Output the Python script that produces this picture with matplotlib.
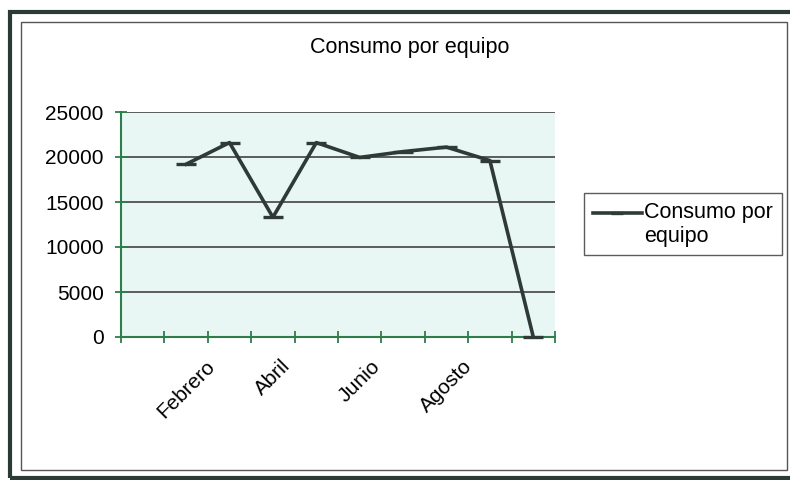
import matplotlib.pyplot as plt
import numpy as np
from matplotlib.patches import Rectangle

plt.rcParams['font.family'] = ['Liberation Sans', 'DejaVu Sans']

meses = ['Enero', 'Febrero', 'Marzo', 'Abril', 'Mayo', 'Junio',
         'Julio', 'Agosto', 'Septiembre', 'Octubre']
consumo = [np.nan, 19200, 21600, 13300, 21600, 19950, 20600, 21100, 19600, 0]
etiquetas = ['Febrero', 'Abril', 'Junio', 'Agosto']

fs = 15
verde = '#2e7d4a'
linea = '#2f3a36'

fig = plt.figure(figsize=(7.9, 4.8), dpi=100)
ax = fig.add_axes([121 / 790, 1 - 337 / 480, 434 / 790, 225 / 480])
ax.set_facecolor('#e8f7f3')

x = np.arange(len(meses))
ax.plot(x, consumo, color=linea, lw=2.6, marker='_', ms=15, mew=2.4,
        label='Consumo por\nequipo', clip_on=False, zorder=5)

ax.set_xlim(-0.5, len(meses) - 0.5)
ax.set_ylim(0, 25000)
ax.set_yticks(np.arange(0, 25001, 5000))
ax.grid(axis='y', color='#333333', lw=1.1)
ax.set_axisbelow(True)

# category borders carry the tick marks, labels sit at category centres
ax.set_xticks(np.arange(-0.5, len(meses)))
ax.set_xticklabels([])
ax.set_xticks([meses.index(m) for m in etiquetas], minor=True)
ax.set_xticklabels(etiquetas, minor=True, rotation=45, ha='center', va='top',
                   fontsize=fs)
ax.tick_params(axis='x', which='minor', length=0, pad=14)
ax.tick_params(axis='both', which='major', direction='inout', length=9,
               width=1.3, color=verde, labelsize=fs, pad=8)

for s in ['top', 'right']:
    ax.spines[s].set_visible(False)
for s in ['left', 'bottom']:
    ax.spines[s].set_color(verde)
    ax.spines[s].set_linewidth(1.5)

fig.text(0.519, 1 - 47 / 480, 'Consumo por equipo', ha='center', va='center',
         fontsize=15.5)

leg = fig.legend(loc='upper left', bbox_to_anchor=(584 / 790, 1 - 193 / 480),
                 fontsize=15.5, frameon=True, fancybox=False, handlelength=2.3,
                 handletextpad=0.1, borderpad=0.4, borderaxespad=0,
                 markerscale=0.6)
leg.get_frame().set_edgecolor('#333333')
leg.get_frame().set_linewidth(1.0)
h = leg.legend_handles[0]
h.set_ydata(np.asarray(h.get_ydata()) + 8.5)

# frames around the chart
fig.patches.append(Rectangle((21 / 790, 1 - 470 / 480), 766 / 790, 448 / 480,
                             transform=fig.transFigure, fill=False,
                             ec='#555555', lw=1.0))
fig.patches.append(Rectangle((10 / 790, 1 - 478 / 480), 800 / 790, 466 / 480,
                             transform=fig.transFigure, fill=False,
                             ec='#2b3a33', lw=3.0, clip_on=False))

fig.savefig('out.png', dpi=100)
